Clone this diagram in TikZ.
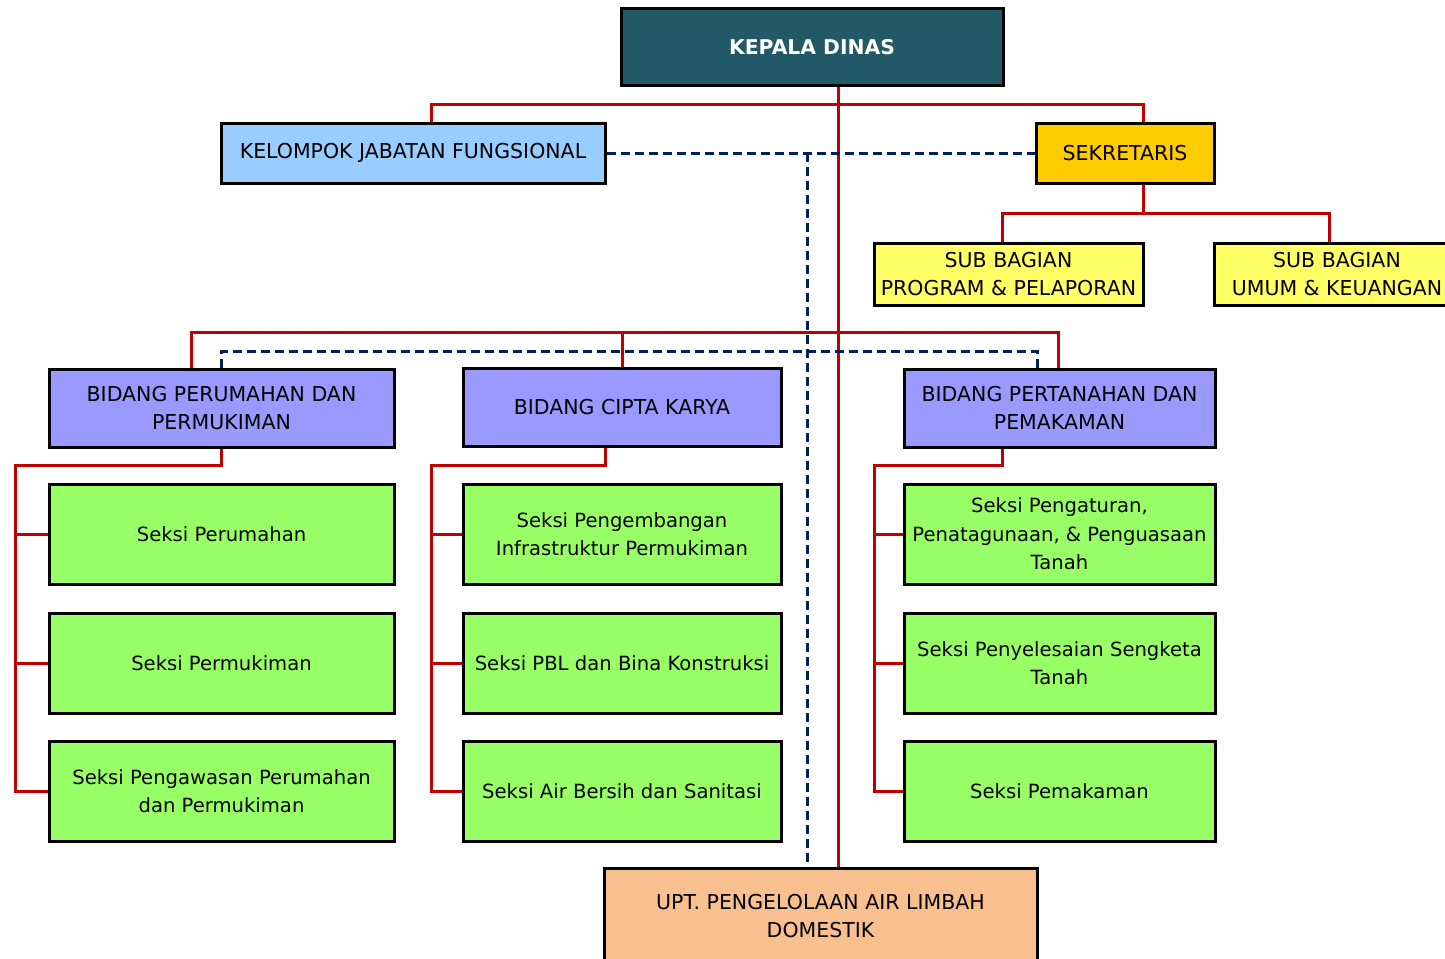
\documentclass[tikz,border=0pt]{standalone}
\usepackage{fontspec}
\setmainfont{DejaVu Sans}
\begin{document}
\begin{tikzpicture}[x=1pt,y=-1pt,
  box/.style={draw=black, line width=3pt, align=center, inner sep=0pt,
    font=\fontsize{20.5}{28.5}\selectfont, text=black},
  seksbox/.style={box, fill=sekscol, minimum height=100pt, font=\fontsize{19.6}{28.5}\selectfont},
  redl/.style={draw={rgb,255:red,192;green,0;blue,0}, line width=3pt},
  navyd/.style={draw={rgb,255:red,0;green,32;blue,96}, line width=3pt, dash pattern=on 9pt off 5pt},
]
\definecolor{kdc}{RGB}{34,89,102}
\definecolor{kjfc}{RGB}{153,204,255}
\definecolor{sekc}{RGB}{255,204,0}
\definecolor{subc}{RGB}{255,255,102}
\definecolor{bidc}{RGB}{153,153,255}
\definecolor{sekscol}{RGB}{153,255,102}
\definecolor{uptc}{RGB}{249,192,143}
\path[use as bounding box] (0,0) rectangle (1445,958);
\clip (0,0) rectangle (1445,958);

% nodes
\node[box, fill=kdc, text=white, font=\fontsize{20.3}{28.5}\selectfont\bfseries,
  minimum width=382pt, minimum height=76pt] (kd) at (812,47) {KEPALA DINAS};
\node[box, fill=kjfc, minimum width=384pt, minimum height=60pt] (kjf) at (413,153) {KELOMPOK JABATAN FUNGSIONAL};
\node[box, fill=sekc, minimum width=178pt, minimum height=60pt] (sek) at (1125,153) {SEKRETARIS};
\node[box, fill=subc, minimum width=269pt, minimum height=62pt] (sub1) at (1008.5,274) {SUB BAGIAN\\PROGRAM \& PELAPORAN};
\node[box, fill=subc, minimum width=246pt, minimum height=62pt] (sub2) at (1337,274) {SUB BAGIAN\\UMUM \& KEUANGAN};

\node[box, fill=bidc, minimum width=345pt, minimum height=78pt] (b1) at (221.5,408) {BIDANG PERUMAHAN DAN\\PERMUKIMAN};
\node[box, fill=bidc, minimum width=318pt, minimum height=78pt] (b2) at (622,407) {BIDANG CIPTA KARYA};
\node[box, fill=bidc, minimum width=311pt, minimum height=78pt] (b3) at (1059.5,408) {BIDANG PERTANAHAN DAN\\PEMAKAMAN};

\node[seksbox, minimum width=345pt] (s11) at (221.5,534) {Seksi Perumahan};
\node[seksbox, minimum width=345pt] (s12) at (221.5,663) {Seksi Permukiman};
\node[seksbox, minimum width=345pt] (s13) at (221.5,791) {Seksi Pengawasan Perumahan\\dan Permukiman};

\node[seksbox, minimum width=318pt] (s21) at (622,534) {Seksi Pengembangan\\Infrastruktur Permukiman};
\node[seksbox, minimum width=318pt] (s22) at (622,663) {Seksi PBL dan Bina Konstruksi};
\node[seksbox, minimum width=318pt] (s23) at (622,791) {Seksi Air Bersih dan Sanitasi};

\node[seksbox, minimum width=311pt] (s31) at (1059.5,534) {Seksi Pengaturan,\\Penatagunaan, \& Penguasaan\\Tanah};
\node[seksbox, minimum width=311pt] (s32) at (1059.5,663) {Seksi Penyelesaian Sengketa\\Tanah};
\node[seksbox, minimum width=311pt] (s33) at (1059.5,791) {Seksi Pemakaman};

\node[box, fill=uptc, minimum width=433pt, minimum height=96pt] (upt) at (820.5,916) {UPT. PENGELOLAAN AIR LIMBAH\\DOMESTIK};

% coordinates
\coordinate (sx) at (838,0);
\coordinate (bus1) at (838,104);
\coordinate (bus2) at (838,332);
\coordinate (sb) at (1143,213);
\coordinate (dv) at (807,153);
\coordinate (dbus) at (807,351);
\coordinate (l1) at (15,465);
\coordinate (l2) at (431,465);
\coordinate (l3) at (874,465);

% red connectors
\draw[redl] (kd.south -| sx) -- (upt.north -| sx);
\draw[redl] ([xshift=18pt]kjf.north) |- (bus1) -| ([xshift=18pt]sek.north);
\draw[redl] ([xshift=18pt]sek.south) -- (sb);
\draw[redl] ([xshift=-6pt]sub1.north) |- (sb) -| ([xshift=-8pt]sub2.north);
\draw[redl] ([xshift=-30pt]b1.north) |- (bus2) -| ([xshift=-1.5pt]b3.north);
\draw[redl] (b2.north) -- (b2.north |- bus2);

\draw[redl] (b1.south) |- (l1) |- (s13.west);
\draw[redl] (l1 |- s11.west) -- (s11.west);
\draw[redl] (l1 |- s12.west) -- (s12.west);
\draw[redl] ([xshift=-17pt]b2.south) |- (l2) |- (s23.west);
\draw[redl] (l2 |- s21.west) -- (s21.west);
\draw[redl] (l2 |- s22.west) -- (s22.west);
\draw[redl] ([xshift=-57.5pt]b3.south) |- (l3) |- (s33.west);
\draw[redl] (l3 |- s31.west) -- (s31.west);
\draw[redl] (l3 |- s32.west) -- (s32.west);

% dashed connectors
\draw[navyd] (kjf.east) -- (sek.west);
\draw[navyd] (dv) -- (upt.north -| dv);
\draw[navyd] (b1.north) |- (dbus) -| ([xshift=-22.5pt]b3.north);
\end{tikzpicture}
\end{document}
